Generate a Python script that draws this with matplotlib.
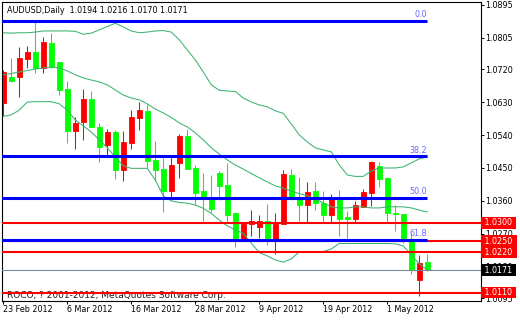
import matplotlib
matplotlib.use("Agg")
import matplotlib.pyplot as plt
import matplotlib.transforms as mtransforms

# AUDUSD daily, 23 Feb 2012 .. 8 May 2012 (one entry per bar)
opens = [1.0628, 1.0699, 1.0699, 1.0748, 1.0767, 1.0722, 1.0792, 1.0738, 1.0666, 1.0552,
         1.0576, 1.0638, 1.0562, 1.0512, 1.0549, 1.0445, 1.0519, 1.0587, 1.0606, 1.0472,
         1.0447, 1.0387, 1.0463, 1.0537, 1.0451, 1.0388, 1.0365, 1.0437, 1.0404, 1.0326,
         1.0255, 1.0297, 1.0290, 1.0305, 1.0255, 1.0297, 1.0431, 1.0372, 1.0349, 1.0388,
         1.0355, 1.0322, 1.0365, 1.0316, 1.0310, 1.0344, 1.0383, 1.0455, 1.0422, 1.0327,
         1.0324, 1.0254, 1.0144, 1.0194]
highs = [1.0718, 1.0750, 1.0780, 1.0783, 1.0851, 1.0807, 1.0818, 1.0740, 1.0688, 1.0590,
         1.0666, 1.0660, 1.0574, 1.0557, 1.0554, 1.0551, 1.0608, 1.0631, 1.0624, 1.0524,
         1.0478, 1.0481, 1.0542, 1.0556, 1.0458, 1.0436, 1.0431, 1.0443, 1.0463, 1.0328,
         1.0300, 1.0334, 1.0322, 1.0351, 1.0326, 1.0445, 1.0447, 1.0425, 1.0413, 1.0413,
         1.0388, 1.0378, 1.0390, 1.0333, 1.0360, 1.0392, 1.0469, 1.0467, 1.0425, 1.0349,
         1.0325, 1.0273, 1.0213, 1.0216]
lows = [1.0593, 1.0685, 1.0644, 1.0722, 1.0710, 1.0710, 1.0723, 1.0649, 1.0519, 1.0503,
        1.0527, 1.0561, 1.0467, 1.0486, 1.0420, 1.0415, 1.0501, 1.0554, 1.0451, 1.0415,
        1.0331, 1.0372, 1.0422, 1.0446, 1.0349, 1.0304, 1.0330, 1.0363, 1.0299, 1.0235,
        1.0254, 1.0264, 1.0258, 1.0240, 1.0215, 1.0296, 1.0363, 1.0304, 1.0299, 1.0335,
        1.0299, 1.0299, 1.0264, 1.0255, 1.0299, 1.0344, 1.0346, 1.0399, 1.0301, 1.0278,
        1.0246, 1.0161, 1.0101, 1.0170]
closes = [1.0713, 1.0688, 1.0750, 1.0767, 1.0722, 1.0794, 1.0725, 1.0663, 1.0552, 1.0574,
          1.0638, 1.0563, 1.0508, 1.0548, 1.0445, 1.0520, 1.0588, 1.0608, 1.0469, 1.0445,
          1.0387, 1.0458, 1.0537, 1.0447, 1.0383, 1.0365, 1.0338, 1.0401, 1.0322, 1.0255,
          1.0297, 1.0305, 1.0305, 1.0255, 1.0297, 1.0434, 1.0372, 1.0349, 1.0385, 1.0354,
          1.0322, 1.0372, 1.0311, 1.0310, 1.0349, 1.0384, 1.0466, 1.0420, 1.0326, 1.0324,
          1.0254, 1.0172, 1.0190, 1.0171]

# bollinger bands
bb_upper = [1.0819, 1.0818, 1.0819, 1.0819, 1.0821, 1.0824, 1.0824, 1.0824, 1.0824, 1.0823,
            1.0815, 1.0818, 1.0827, 1.0836, 1.0845, 1.0835, 1.0824, 1.0819, 1.0821, 1.0824,
            1.0825, 1.0821, 1.0800, 1.0772, 1.0745, 1.0712, 1.0677, 1.0662, 1.0660, 1.0659,
            1.0641, 1.0630, 1.0622, 1.0617, 1.0606, 1.0599, 1.0570, 1.0540, 1.0521, 1.0505,
            1.0499, 1.0494, 1.0458, 1.0431, 1.0427, 1.0427, 1.0442, 1.0450, 1.0450, 1.0450,
            1.0453, 1.0464, 1.0475, 1.0480]
bb_mid = [1.0704, 1.0708, 1.0712, 1.0716, 1.0720, 1.0723, 1.0726, 1.0723, 1.0715, 1.0704,
          1.0696, 1.0690, 1.0685, 1.0677, 1.0663, 1.0649, 1.0641, 1.0636, 1.0625, 1.0611,
          1.0600, 1.0588, 1.0573, 1.0562, 1.0546, 1.0527, 1.0505, 1.0488, 1.0472, 1.0458,
          1.0447, 1.0435, 1.0423, 1.0412, 1.0401, 1.0395, 1.0387, 1.0380, 1.0374, 1.0365,
          1.0355, 1.0344, 1.0341, 1.0341, 1.0344, 1.0344, 1.0341, 1.0341, 1.0344, 1.0344,
          1.0344, 1.0341, 1.0335, 1.0330]
bb_lower = [1.0591, 1.0595, 1.0608, 1.0630, 1.0631, 1.0631, 1.0631, 1.0625, 1.0608, 1.0581,
            1.0565, 1.0548, 1.0527, 1.0505, 1.0480, 1.0456, 1.0449, 1.0449, 1.0449, 1.0417,
            1.0374, 1.0360, 1.0356, 1.0354, 1.0349, 1.0340, 1.0326, 1.0308, 1.0292, 1.0281,
            1.0272, 1.0245, 1.0219, 1.0210, 1.0199, 1.0193, 1.0202, 1.0221, 1.0222, 1.0222,
            1.0222, 1.0229, 1.0244, 1.0244, 1.0244, 1.0244, 1.0244, 1.0244, 1.0244, 1.0243,
            1.0237, 1.0213, 1.0188, 1.0172]

date_labels = ['23 Feb 2012', '6 Mar 2012', '16 Mar 2012', '28 Mar 2012',
               '9 Apr 2012', '19 Apr 2012', '1 May 2012']
yticks = [1.0895, 1.0805, 1.0720, 1.0630, 1.0540, 1.0450, 1.0360, 1.0270, 1.0180, 1.0095]

fib_top = 1.0851
fib_bottom = 0.9885
fib_levels = [0.0, 38.2, 50.0, 61.8]
red_levels = [1.0300, 1.0250, 1.0220, 1.0110]
bid = closes[-1]

n = len(closes)
x = list(range(n))

fig = plt.figure(figsize=(5.2, 3.2), dpi=100)
ax = fig.add_axes([2 / 520, 19 / 320, 479 / 520, 299 / 320])

# candles: red = up bar, green = down bar (terminal colours)
for i in x:
    col = '#ff0000' if closes[i] >= opens[i] else '#00ff00'
    ax.vlines(i, lows[i], highs[i], color=col, lw=0.75, zorder=2)
    lo = min(opens[i], closes[i])
    ax.bar(i, abs(closes[i] - opens[i]), bottom=lo, width=0.6, color=col,
           edgecolor=col, linewidth=0.6, zorder=2)

for band in (bb_upper, bb_mid, bb_lower):
    ax.plot(x, band, color='#3cb371', lw=0.75, zorder=3)

# horizontal lines
for lv in red_levels:
    ax.axhline(lv, color='#ff0000', lw=1.5, zorder=4)
ax.axhline(bid, color='#778899', lw=0.75, zorder=4)

for f in fib_levels:
    price = fib_top - (fib_top - fib_bottom) * f / 100
    ax.hlines(price, -1, n - 1, color='#0000ff', lw=2.2, zorder=5)
    ax.annotate(f'{f:.1f}', xy=(n - 1, price), xytext=(0, 1.2),
                textcoords='offset points', ha='right', va='bottom',
                color='#6a6aff', fontsize=5.8, zorder=6)

ax.set_xlim(-0.16, 59.71)
ax.set_ylim(1.0087, 1.0903)

ax.set_xticks(x[::8])
ax.set_xticklabels(date_labels, ha='left', fontsize=5.8)
ax.yaxis.tick_right()
ax.set_yticks(yticks)
ax.set_yticklabels([f'{v:.4f}' for v in yticks], fontsize=5.8)
ax.tick_params(axis='both', length=2.2, width=0.7, pad=1, colors='black')
for s in ax.spines.values():
    s.set_linewidth(0.8)
    s.set_color('black')

# price labels on the right axis
trans = mtransforms.blended_transform_factory(ax.transAxes, ax.transData)
for lv in red_levels:
    ax.text(1.003, lv, f' {lv:.4f} ', transform=trans, va='center', ha='left',
            fontsize=5.8, color='white', clip_on=False, zorder=10,
            bbox=dict(facecolor='#ff0000', edgecolor='none', pad=1.0))
ax.text(1.003, bid, f' {bid:.4f} ', transform=trans, va='center', ha='left',
        fontsize=5.8, color='white', clip_on=False, zorder=10,
        bbox=dict(facecolor='black', edgecolor='none', pad=1.0))

ax.text(0.0105, 0.97, 'AUDUSD,Daily  %.4f %.4f %.4f %.4f' % (opens[-1], highs[-1], lows[-1], closes[-1]),
        transform=ax.transAxes, fontsize=5.8, va='center', ha='left', color='black')
ax.text(0.0105, 0.02, 'ROCO, ? 2001-2012, MetaQuotes Software Corp.',
        transform=ax.transAxes, fontsize=6.5, va='center', ha='left', color='#202020', zorder=3)

fig.savefig('out.png', dpi=100)
